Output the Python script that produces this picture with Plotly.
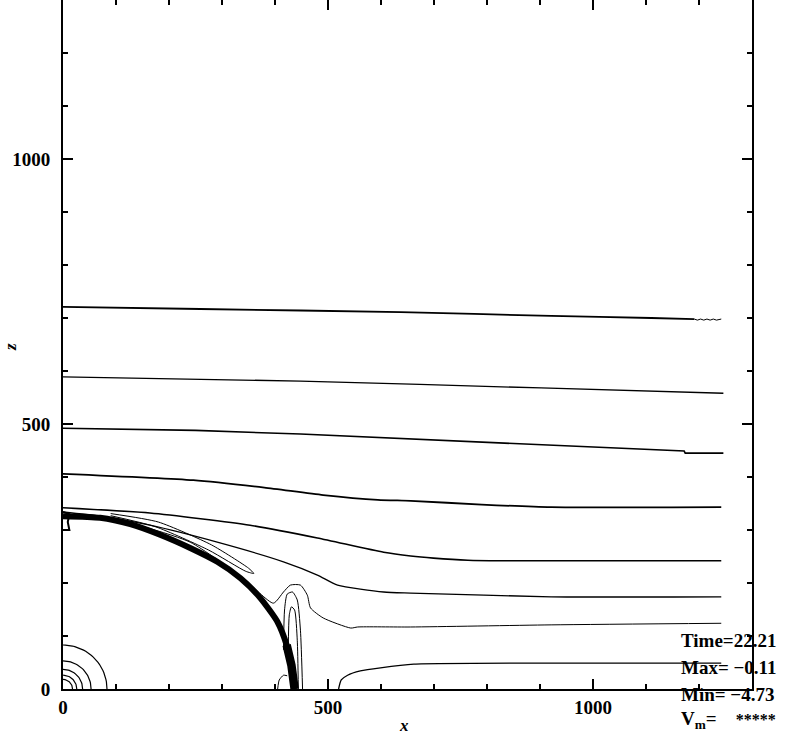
import plotly.graph_objects as go
import numpy as np

# ---------------- data (x, z in model units) ----------------
# far-field contour lines (top to bottom)
cA_x = [0, 259, 637, 921, 1110, 1191]
cA_z = [721, 717, 711, 704, 700, 698]
cA_tail_x = [1191, 1197, 1203, 1209, 1215, 1221, 1227, 1233, 1242]
cA_tail_z = [698, 696, 698, 696, 698, 696, 698, 696, 698]

cB_x = [0, 448, 902, 1246]
cB_z = [589, 581, 568, 558]

cC_x = [0, 250, 448, 700, 902, 1172, 1174, 1246]
cC_z = [492, 488, 481, 470, 460, 449, 445, 445]

cD_x = [0, 246, 380, 491, 594, 656, 790, 921, 1242]
cD_z = [406, 394, 380, 366, 357, 355, 348, 343, 343]

cE_x = [0, 164, 353, 480, 605, 656, 699, 764, 826, 921, 1242]
cE_z = [342, 332, 309, 285, 258, 251, 247, 243, 242, 242, 242]

cF_x = [0, 70, 164, 291, 416, 480, 518, 605, 656, 921, 1242]
cF_z = [334, 326, 309, 277, 240, 215, 196, 183, 181, 174, 174]

cG_x = [136, 240, 340, 397, 416, 429, 448, 461, 467, 491, 543, 556, 656, 921, 1242]
cG_z = [311, 277, 209, 162, 183, 196, 196, 177, 153, 134, 115, 117, 117, 121, 124]

cH_x = [520, 525, 537, 561, 599, 662, 921, 1242]
cH_z = [0, 17, 26, 34, 40, 47, 49, 49]

# narrow plume contours behind the front
cI1_x = [416, 418, 423, 433, 442, 448, 452]
cI1_z = [74, 149, 179, 183, 168, 111, 0]
cI2_x = [425, 427, 431, 437, 442, 444]
cI2_z = [74, 140, 155, 149, 92, 0]

# small arc at the foot of the front
cK_x = [405, 408, 416, 423]
cK_z = [0, 17, 26, 25]

# thick front
front_x = [0, 70, 127, 183, 240, 291, 335, 372, 405, 422, 431, 437]
front_z = [326, 323, 311, 291, 266, 240, 209, 172, 126, 83, 45, 0]

# thin loop riding on the front
loop_x = [90, 180, 280, 350, 360, 345, 275, 175, 90]
loop_z = [331, 315, 272, 228, 218, 222, 262, 306, 327]

# small bracket at the left end of the front
brk_x = [0, 12, 9, 12, 0]
brk_z = [334, 330, 315, 300, 300]

# concentric contours near the origin
orig_r = [83, 53, 37, 26, 18]

# text
time_txt = "Time=22.21"
max_txt = "Max= \u22120.11"
min_txt = "Min= \u22124.73"
vm_txt = "V<sub>m</sub>=    <span style='font-size:16px'>*****</span>"
x_ticks = [0, 500, 1000]
y_ticks = [0, 500, 1000]

# ---------------- figure ----------------
fig = go.Figure()

def add_line(xs, zs, w=1.5, shape="spline"):
    line = dict(color="black", width=w, shape=shape)
    if shape == "spline":
        line["smoothing"] = 0.6
    fig.add_trace(go.Scatter(x=xs, y=zs, mode="lines", line=line,
                             hoverinfo="skip", showlegend=False))

add_line(cA_x, cA_z, 1.8)
add_line(cA_tail_x, cA_tail_z, 1.0, "linear")
add_line(cB_x, cB_z, 1.3)
add_line(cC_x, cC_z, 1.6, "linear")
add_line(cD_x, cD_z, 1.8)
add_line(cE_x, cE_z, 1.6)
add_line(cF_x, cF_z, 1.3)
add_line(cG_x, cG_z, 1.0)
add_line(cH_x, cH_z, 1.3)
add_line(cI1_x, cI1_z, 1.0)
add_line(cI2_x, cI2_z, 1.0)
add_line(cK_x, cK_z, 1.0)
add_line(loop_x, loop_z, 1.0)
add_line(brk_x, brk_z, 2.0, "linear")
add_line(front_x, front_z, 6)
add_line(front_x[-3:], front_z[-3:], 8.5, "linear")

for r in orig_r:
    t = np.linspace(0, np.pi / 2, 30)
    add_line(list(r * np.cos(t)), list(r * np.sin(t)), 1.2, "linear")

axis_common = dict(
    range=[0, 1300], showgrid=False, zeroline=False, automargin=False,
    showline=True, linecolor="black", linewidth=2, mirror="allticks",
    ticks="inside", ticklen=10, tickwidth=1.5, tickcolor="black",
    tickfont=dict(family="Liberation Serif", size=19, color="black", weight="bold"),
    minor=dict(dtick=100, tick0=0, ticks="inside", ticklen=5, tickwidth=1.5,
               tickcolor="black", showgrid=False),
    fixedrange=True,
)

fig.update_xaxes(tickvals=x_ticks, ticktext=[str(v) for v in x_ticks], **axis_common)
fig.update_yaxes(tickvals=y_ticks, ticktext=[str(v) for v in y_ticks],
                 ticklabelstandoff=7, **axis_common)

tfont = dict(family="Liberation Serif", size=19, color="black", weight="bold")
lfont = dict(family="Liberation Serif", size=17, color="black", weight="bold")
ann = []
ann.append(dict(text="<i>x</i>", x=0.495, y=-0.053, xref="paper", yref="paper",
                xanchor="center", yanchor="middle", showarrow=False, font=lfont))
ann.append(dict(text="<i>z</i>", x=-0.076, y=0.496, xref="paper", yref="paper",
                xanchor="center", yanchor="middle", showarrow=False, font=lfont, textangle=-90))
for txt, yp in [(time_txt, 0.0697), (max_txt, 0.0305), (min_txt, -0.0087), (vm_txt, -0.045)]:
    ann.append(dict(text=txt, x=0.894, y=yp, xref="paper", yref="paper",
                    xanchor="left", yanchor="middle", showarrow=False, font=tfont))

fig.update_layout(
    width=789, height=736,
    margin=dict(l=63, r=37, t=0, b=47, pad=0),
    paper_bgcolor="white", plot_bgcolor="white",
    annotations=ann, showlegend=False,
)

fig.write_html("out.html", config={"displayModeBar": False},
               post_script="document.body.style.margin='0';document.body.style.padding='0';")
